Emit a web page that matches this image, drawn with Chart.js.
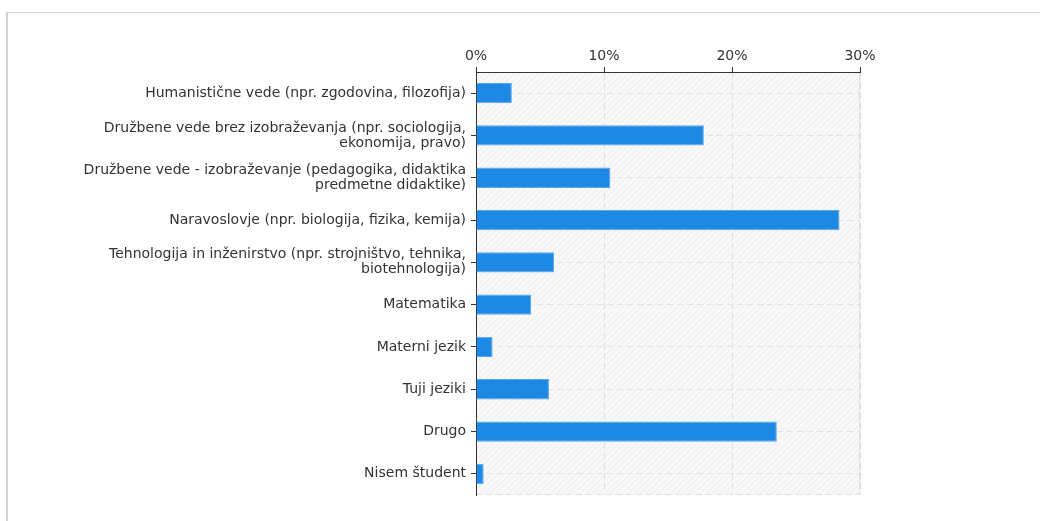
<!DOCTYPE html>
<html>
<head>
<meta charset="utf-8">
<script src="https://cdn.jsdelivr.net/npm/chart.js@4"></script>
<style>
    body { margin: 0; background: #fff; }
    #okvir { position: absolute; left: 6px; top: 12px; width: 1100px; height: 600px; border-top: 1px solid #d4d4d4; border-left: 2px solid #d4d4d4; }
    #graf { position: absolute; left: 0; top: 0; }
</style>
</head>
<body>
<div id="okvir"></div>
<canvas id="graf" width="1040" height="521"></canvas>
<script>
// Podatki
let kategorije = [
    "Humanistične vede (npr. zgodovina, filozofija)",
    ["Družbene vede brez izobraževanja (npr. sociologija,", "ekonomija, pravo)"],
    ["Družbene vede - izobraževanje (pedagogika, didaktika", "predmetne didaktike)"],
    "Naravoslovje (npr. biologija, fizika, kemija)",
    ["Tehnologija in inženirstvo (npr. strojništvo, tehnika,", "biotehnologija)"],
    "Matematika",
    "Materni jezik",
    "Tuji jeziki",
    "Drugo",
    "Nisem študent"
];
let odstotki = [2.8, 17.8, 10.5, 28.4, 6.1, 4.3, 1.3, 5.7, 23.5, 0.6];
let oznakeOsi = [0, 10, 20, 30];

// Šrafirano ozadje območja grafa
const ozadje = {
    id: "ozadje",
    beforeDraw(chart) {
        const { ctx, chartArea: a } = chart;
        let p = document.createElement("canvas");
        p.width = 6; p.height = 6;
        let pc = p.getContext("2d");
        pc.fillStyle = "#f8f8f8";
        pc.fillRect(0, 0, 6, 6);
        pc.strokeStyle = "#ececec";
        pc.lineWidth = 1;
        pc.beginPath();
        pc.moveTo(0, 6); pc.lineTo(6, 0);
        pc.moveTo(-1, 1); pc.lineTo(1, -1);
        pc.moveTo(5, 7); pc.lineTo(7, 5);
        pc.stroke();
        ctx.save();
        ctx.fillStyle = ctx.createPattern(p, "repeat");
        ctx.fillRect(a.left, a.top, a.right - a.left, a.bottom - a.top);
        ctx.strokeStyle = "#e0e0e0";
        ctx.setLineDash([6, 4]);
        ctx.beginPath();
        ctx.moveTo(a.left, a.bottom - 0.5);
        ctx.lineTo(a.right, a.bottom - 0.5);
        ctx.stroke();
        ctx.setLineDash([]);
        ctx.beginPath();
        ctx.moveTo(a.right - 0.5, a.top);
        ctx.lineTo(a.right - 0.5, a.bottom);
        ctx.stroke();
        ctx.restore();
    }
};

let pisava = { family: "'DejaVu Sans', Verdana, sans-serif", size: 14, lineHeight: "15px" };

new Chart(document.getElementById("graf").getContext("2d"), {
    type: "bar",
    data: {
        labels: kategorije,
        datasets: [{
            data: odstotki,
            backgroundColor: "#1e88e5",
            borderColor: "#5aa8ec",
            borderWidth: 1,
            categoryPercentage: 1,
            barPercentage: 0.48
        }]
    },
    options: {
        indexAxis: "y",
        responsive: false,
        animation: false,
        layout: { padding: { left: 0, right: 180, top: 0, bottom: 26 } },
        plugins: { legend: { display: false }, tooltip: { enabled: false } },
        scales: {
            x: {
                position: "top",
                min: 0,
                max: 30,
                afterBuildTicks: s => { s.ticks = oznakeOsi.map(v => ({ value: v })); },
                afterFit: s => { s.height = 72; },
                ticks: { callback: v => v + "%", color: "#333", font: pisava, padding: 3, maxRotation: 0 },
                grid: { color: "#dedede", tickColor: "#333", tickLength: 5 },
                border: { color: "#333", width: 1, dash: [6, 4] }
            },
            y: {
                afterFit: s => { s.width = 476; },
                ticks: { color: "#333", font: pisava, padding: 5, autoSkip: false },
                grid: { offset: false, color: "#e2e2e2", tickColor: "#333", tickLength: 5 },
                border: { color: "#333", width: 1, dash: [6, 4] }
            }
        }
    },
    plugins: [ozadje]
});
</script>
</body>
</html>
